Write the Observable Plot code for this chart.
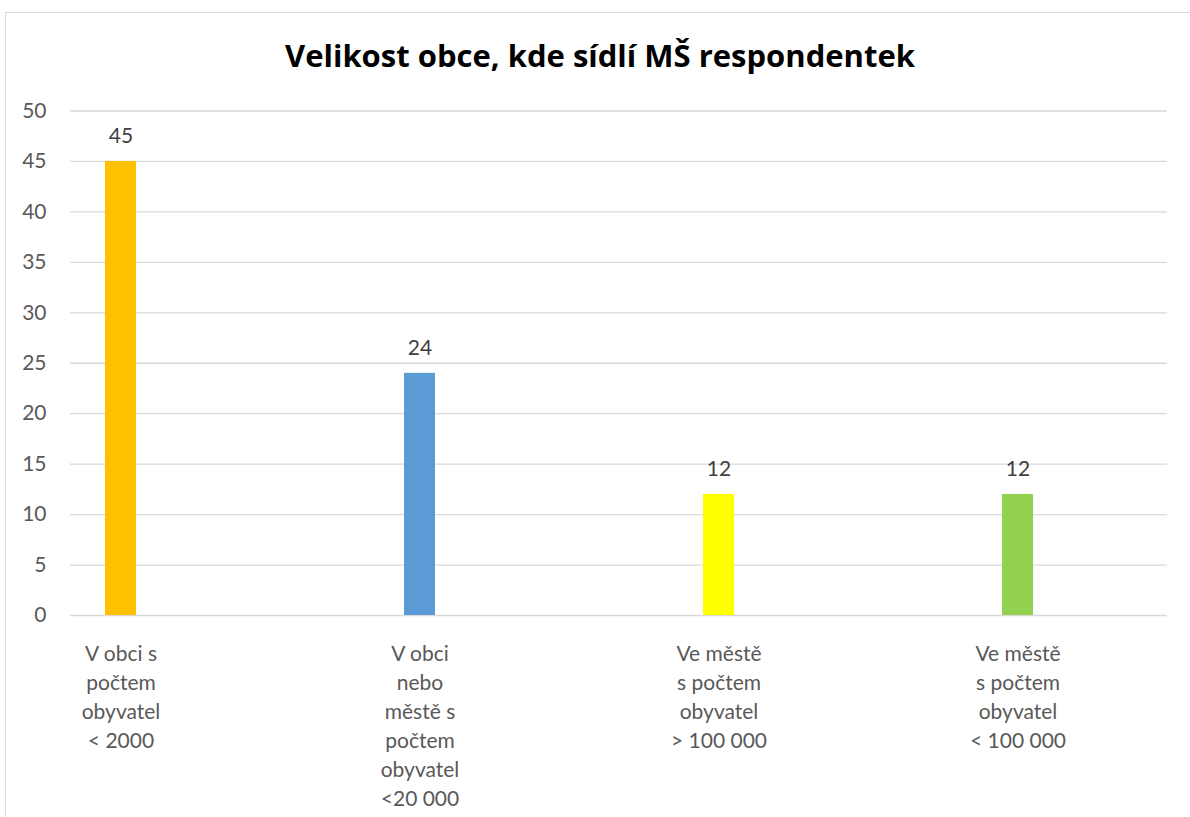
<!DOCTYPE html>
<html><head><meta charset="utf-8">
<script src="https://cdn.jsdelivr.net/npm/d3@7"></script>
<script src="https://cdn.jsdelivr.net/npm/@observablehq/plot@0.6"></script>
<style>
body{margin:0;background:#fff;}
#wrap{position:relative;width:1190px;height:817px;overflow:hidden;font-family:Lato,sans-serif;background:#fff;}
#frame{position:absolute;left:5px;top:12px;width:1300px;height:900px;border-left:1.5px solid #d9d9d9;border-top:1.5px solid #d9d9d9;}
#title{position:absolute;top:34px;left:0;width:1200px;text-align:center;font-family:"Open Sans",sans-serif;font-weight:bold;font-size:31px;line-height:normal;color:#000;}
#chart{position:absolute;left:0;top:0;}
</style></head>
<body><div id="wrap"><div id="frame"></div><div id="title">Velikost obce, kde sídlí MŠ respondentek</div><div id="chart"></div></div>
<script>
const categories = [
  "V obci s počtem obyvatel < 2000",
  "V obci nebo městě s počtem obyvatel <20 000",
  "Ve městě s počtem obyvatel > 100 000",
  "Ve městě s počtem obyvatel < 100 000"
];
const tickLabels = [
  "V obci s\npočtem\nobyvatel\n< 2000",
  "V obci\nnebo\nměstě s\npočtem\nobyvatel\n<20 000",
  "Ve městě\ns počtem\nobyvatel\n> 100 000",
  "Ve městě\ns počtem\nobyvatel\n< 100 000"
];
const values = [45, 24, 12, 12];
const colors = ["#FFC000", "#5B9BD5", "#FFFF00", "#92D050"];
const yTicks = [0, 5, 10, 15, 20, 25, 30, 35, 40, 45, 50];

const data = categories.map((c, i) => ({cat: c, value: values[i], color: colors[i]}));
const labelOf = new Map(categories.map((c, i) => [c, tickLabels[i]]));

const chart = Plot.plot({
  width: 1190, height: 817,
  marginLeft: 70, marginRight: 23, marginTop: 110.5, marginBottom: 202,
  style: {fontFamily: "Lato, sans-serif", fontSize: "21px", color: "#595959", background: "transparent"},
  x: {domain: categories, range: [-30.25, 1167.75], paddingInner: 0.8965, paddingOuter: 0.44825, align: 0.5, label: null},
  y: {domain: [0, 50], label: null},
  color: {type: "identity"},
  marks: [
    Plot.gridY(yTicks, {stroke: "#d9d9d9", strokeOpacity: 1, strokeWidth: 1.3}),
    Plot.axisY(yTicks, {tickSize: 0, tickPadding: 24, fill: "#595959", fontSize: 21, label: null}),
    Plot.barY(data, {x: "cat", y: "value", fill: "color"}),
    Plot.text(data, {x: "cat", y: "value", text: d => String(d.value), dy: -24.7, fill: "#404040", fontSize: 21}),
    Plot.axisX({tickSize: 0, tickPadding: 25, tickFormat: d => labelOf.get(d), lineHeight: 1.38, fontSize: 21, fill: "#595959", label: null})
  ]
});
document.getElementById("chart").appendChild(chart);
</script>
</body></html>
